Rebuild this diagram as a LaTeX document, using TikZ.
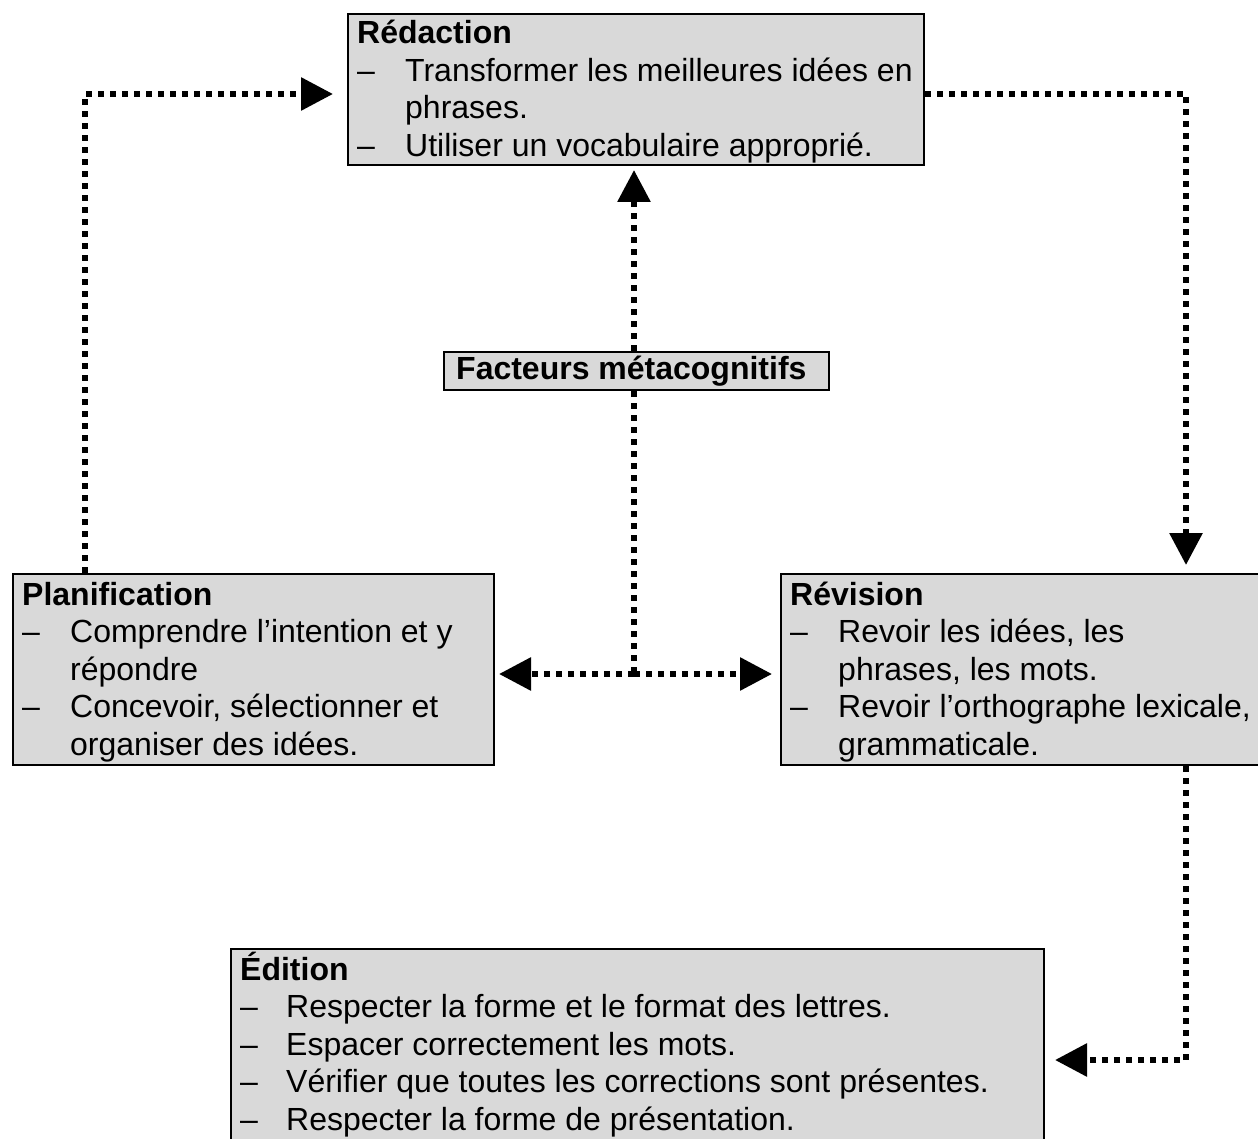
\documentclass[tikz,border=0pt]{standalone}
\usepackage{fontspec}
\setmainfont{Liberation Sans}
\usetikzlibrary{arrows.meta,calc}
\definecolor{boxgray}{RGB}{217,217,217}
\begin{document}
\begin{tikzpicture}[x=1pt,y=-1pt,
  box/.style={draw=black, line width=2pt, fill=boxgray, inner sep=0pt, anchor=north west},
  txt/.style={inner sep=0pt, anchor=base west, font=\fontsize{32}{37.5}\selectfont},
  link/.style={line width=6pt, dash pattern=on 6pt off 6pt, line cap=butt},
  tip/.style={-{Triangle[length=32pt,width=32pt]}}
]
\useasboundingbox (0,0) rectangle (1258,1139);
\clip (0,0) rectangle (1258,1139);

% boxes
\node[box, minimum width=576pt, minimum height=151pt] (red) at (347,13) {};
\node[box, minimum width=385pt, minimum height=38pt] (fac) at (443,351) {};
\node[box, minimum width=481pt, minimum height=191pt] (plan) at (12,573) {};
\node[box, minimum width=490pt, minimum height=191pt] (rev) at (780,573) {};
\node[box, minimum width=813pt, minimum height=200pt] (edi) at (230,948) {};

% texts
\node[txt] (redtxt) at (357,44) {\begin{tabular}[t]{@{}p{48pt}@{}l@{}}
\multicolumn{2}{@{}l@{}}{\bfseries Rédaction}\\
– & Transformer les meilleures idées en\\
  & phrases.\\
– & Utiliser un vocabulaire approprié.
\end{tabular}};

\node[txt] (factxt) at (456,380) {\bfseries Facteurs métacognitifs};

\node[txt] (plantxt) at (22,605) {\begin{tabular}[t]{@{}p{48pt}@{}l@{}}
\multicolumn{2}{@{}l@{}}{\bfseries Planification}\\
– & Comprendre l’intention et y\\
  & répondre\\
– & Concevoir, sélectionner et\\
  & organiser des idées.
\end{tabular}};

\node[txt] (revtxt) at (790,605) {\begin{tabular}[t]{@{}p{48pt}@{}l@{}}
\multicolumn{2}{@{}l@{}}{\bfseries Révision}\\
– & Revoir les idées, les\\
  & phrases, les mots.\\
– & Revoir l’orthographe lexicale,\\
  & grammaticale.
\end{tabular}};

\node[txt] (editxt) at (240,980) {\begin{tabular}[t]{@{}p{46pt}@{}l@{}}
\multicolumn{2}{@{}l@{}}{\bfseries Édition}\\
– & Respecter la forme et le format des lettres.\\
– & Espacer correctement les mots.\\
– & Vérifier que toutes les corrections sont présentes.\\
– & Respecter la forme de présentation.
\end{tabular}};

% connectors
\coordinate (c1) at (85,94);
\coordinate (c2) at (1186,94);
\coordinate (c4) at (634,674);
\coordinate (c5) at (1186,1060);

\draw[link,tip] (c1 |- plan.north) |- ([xshift=-14pt]red.west |- c1);
\draw[link,tip] (red.east |- c2) -| ([yshift=8pt]rev.north -| c2);
\draw[link,tip] (fac.north -| c4) -- ([yshift=-4pt]red.south -| c4);
\draw[link] (fac.south -| c4) -- (c4);
\draw[link,tip] (c4) -- ([xshift=4pt]plan.east |- c4);
\draw[link,tip] (c4) -- ([xshift=-8pt]rev.west |- c4);
\draw[link,tip] (rev.south -| c5) |- ([xshift=10pt]edi.east |- c5);
\end{tikzpicture}
\end{document}
